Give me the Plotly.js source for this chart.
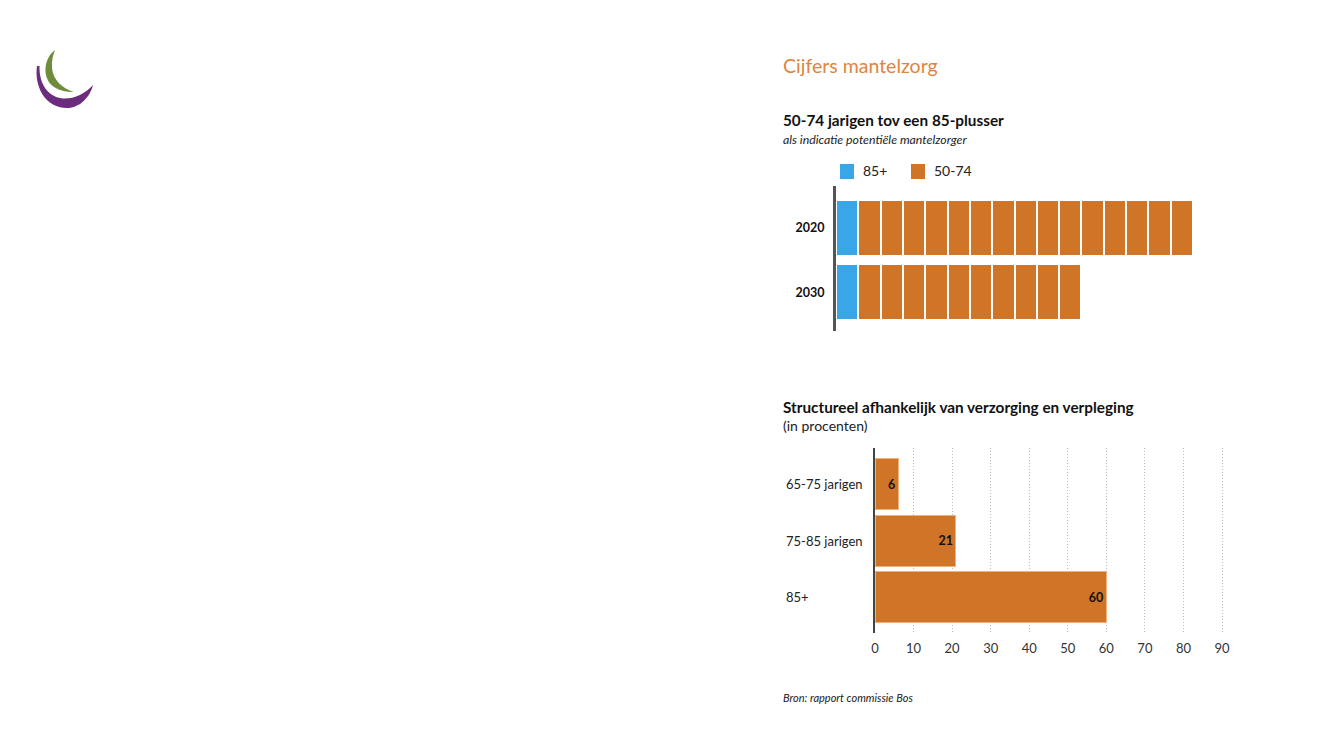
<!DOCTYPE html>
<html>
<head>
<meta charset="utf-8">
<script src="https://cdn.plot.ly/plotly-3.0.1.min.js"></script>
<style>
html,body{margin:0;padding:0;background:#fff;}
#chart{width:1333px;height:750px;}
</style>
</head>
<body>
<div id="chart"></div>
<script>
// ---------- DATA ----------
var years = ['2020', '2030'];
var ratio85plus = [1, 1];          // one 85-plusser
var ratio5074 = [15, 10];          // number of 50-74 jarigen per 85-plusser
var legendNames = ['85+', '50-74'];

var ageGroups = ['65-75 jarigen', '75-85 jarigen', '85+'];
var dependentPct = [6, 21, 60];
var pctTicks = [0, 10, 20, 30, 40, 50, 60, 70, 80, 90];

var mainTitle = 'Cijfers mantelzorg';
var title1 = '50-74 jarigen tov een 85-plusser';
var subtitle1 = 'als indicatie potentiële mantelzorger';
var title2 = 'Structureel afhankelijk van verzorging en verpleging';
var subtitle2 = '(in procenten)';
var source = 'Bron: rapport commissie Bos';

// ---------- HELPERS ----------
var W = 1333, H = 750;
function px(x){ return x / W; }
function py(y){ return 1 - y / H; }
function pathFromPx(cmds){
  return cmds.map(function(c){
    if (c[0] === 'Z') return 'Z';
    var parts = [];
    for (var i = 1; i < c.length; i += 2) parts.push(px(c[i]).toFixed(5) + ',' + py(c[i+1]).toFixed(5));
    return c[0] + parts.join(' ');
  }).join(' ');
}

var BLUE = '#39A7E7';
var ORANGE = '#D07428';
var FONT = 'Lato, "Open Sans", sans-serif';
var seriesColors = [BLUE, ORANGE];

// ---------- TRACES ----------
var traces = [];
traces.push({
  type: 'bar', orientation: 'h', y: years, x: ratio85plus,
  name: legendNames[0], showlegend: false, xaxis: 'x', yaxis: 'y',
  width: 0.87,
  marker: {color: BLUE, line: {color: '#ffffff', width: 2}},
  hoverinfo: 'skip'
});
var maxUnits = Math.max.apply(null, ratio5074);
for (var k = 0; k < maxUnits; k++) {
  traces.push({
    type: 'bar', orientation: 'h', y: years,
    x: ratio5074.map(function(v){ return v > k ? 1 : null; }),
    name: legendNames[1], showlegend: false,
    xaxis: 'x', yaxis: 'y', width: 0.87,
    marker: {color: ORANGE, line: {color: '#ffffff', width: 2}},
    hoverinfo: 'skip'
  });
}
traces.push({
  type: 'bar', orientation: 'h', y: ageGroups, x: dependentPct,
  xaxis: 'x2', yaxis: 'y2', showlegend: false, width: 0.9,
  marker: {color: ORANGE, line: {color: '#EFB27E', width: 1}},
  text: dependentPct.map(String), textposition: 'inside',
  insidetextanchor: 'end', constraintext: 'none', textangle: 0,
  insidetextfont: {family: FONT, size: 12.5, color: '#111', weight: 'bold'},
  hoverinfo: 'skip'
});

// ---------- ANNOTATIONS ----------
var ann = [];
function txt(text, x, y, size, color, family){
  ann.push({text: text, x: px(x), y: py(y), xref: 'paper', yref: 'paper',
    xanchor: 'left', yanchor: 'middle', showarrow: false,
    font: {family: family || FONT, size: size, color: color}});
}
txt(mainTitle, 781, 66, 19.5, '#E0843F');
txt('<b>' + title1 + '</b>', 781, 120, 15.3, '#111');
txt('<i>' + subtitle1 + '</i>', 781, 139, 12.3, '#222');
txt('<b>' + title2 + '</b>', 781, 407, 15.3, '#111');
txt(subtitle2, 781, 425, 14, '#222');
txt('<i>' + source + '</i>', 781, 697, 11, '#222');
ageGroups.forEach(function(g){
  ann.push({text: g, x: px(784), xref: 'paper', y: g, yref: 'y2',
    xanchor: 'left', yanchor: 'middle', showarrow: false,
    font: {family: FONT, size: 13, color: '#222'}});
});

// ---------- MANUAL LEGEND ----------
var shapes = [];
var legendX = [840, 911];
legendNames.forEach(function(n, i){
  shapes.push({type: 'rect', xref: 'paper', yref: 'paper',
    x0: px(legendX[i]), x1: px(legendX[i] + 14), y0: py(179), y1: py(164),
    fillcolor: seriesColors[i], line: {width: 0}});
  txt(n, legendX[i] + 21, 171, 14, '#222');
});

// ---------- LOGO SHAPES ----------
var purplePath = pathFromPx([
  ['M', 37, 66],
  ['C', 34, 86, 45, 108, 67, 108],
  ['C', 80, 108, 90, 97, 93, 85],
  ['C', 85, 94, 74, 99, 63, 98.5],
  ['C', 48, 97, 39, 84, 39.5, 66],
  ['Z']
]);
var greenPath = pathFromPx([
  ['M', 55, 50],
  ['C', 43, 59, 42, 79, 54, 87],
  ['C', 60, 91, 67, 92, 73.5, 92],
  ['C', 62, 88, 53, 80, 52, 68],
  ['C', 51.5, 61, 53, 55, 55, 50],
  ['Z']
]);
shapes.push({type: 'path', xref: 'paper', yref: 'paper', path: purplePath, fillcolor: '#6C2C7E', line: {width: 0}});
shapes.push({type: 'path', xref: 'paper', yref: 'paper', path: greenPath, fillcolor: '#6F8C3C', line: {width: 0}});

var layout = {
  width: W, height: H,
  margin: {l: 0, r: 0, t: 0, b: 0},
  paper_bgcolor: '#ffffff', plot_bgcolor: '#ffffff',
  barmode: 'stack',
  font: {family: FONT, color: '#222'},
  showlegend: false,
  xaxis: {domain: [px(836), px(1193)], range: [0, 16], visible: false, fixedrange: true, anchor: 'y'},
  yaxis: {domain: [py(331), py(186)], range: [1.6, -0.65], type: 'category', anchor: 'x',
    showline: true, linecolor: '#555', linewidth: 3, showgrid: false, zeroline: false,
    ticks: '', ticklabelstandoff: 6,
    tickfont: {family: FONT, size: 12.5, color: '#111', weight: 'bold'}, fixedrange: true},
  xaxis2: {domain: [px(875), px(1223.2)], range: [0, 90.3], anchor: 'y2',
    tickvals: pctTicks, ticktext: pctTicks.map(String), showgrid: true, gridcolor: '#bcbcbc',
    griddash: '1px,2px', gridwidth: 1, zeroline: false, showline: false, ticks: '',
    ticklabelstandoff: 6, tickfont: {family: FONT, size: 13, color: '#333'}, fixedrange: true},
  yaxis2: {domain: [py(633), py(448)], range: [2.63, -0.64], type: 'category', anchor: 'x2',
    showline: true, linecolor: '#444', linewidth: 2, showgrid: false, zeroline: false,
    showticklabels: false, ticks: '', fixedrange: true},
  annotations: ann,
  shapes: shapes
};

Plotly.newPlot('chart', traces, layout, {displayModeBar: false, staticPlot: true});
</script>
</body>
</html>
